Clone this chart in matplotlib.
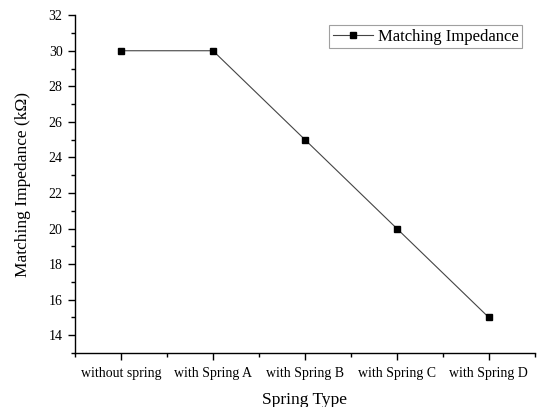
import matplotlib
matplotlib.use("Agg")
import matplotlib.pyplot as plt
from matplotlib.ticker import MultipleLocator, FixedLocator

plt.rcParams['font.family'] = ['Liberation Serif', 'DejaVu Serif']

categories = ["without spring", "with Spring A", "with Spring B", "with Spring C", "with Spring D"]
impedance = [30, 30, 25, 20, 15]

fig = plt.figure(figsize=(5.44, 4.07), dpi=100)
ax = fig.add_axes([0.138, 0.1327, 0.845, 0.83])

x = list(range(1, len(categories) + 1))
ax.plot(x, impedance, color='#444444', linewidth=0.8, marker='s', markersize=5,
        markerfacecolor='black', markeredgecolor='black', label='Matching Impedance')

ax.set_xlim(0.5, len(categories) + 0.5)
ax.set_ylim(13, 32)
ax.set_xticks(x)
ax.set_xticklabels(categories)
ax.xaxis.set_minor_locator(FixedLocator([0.5 + i for i in range(len(categories) + 1)]))
ax.set_yticks(range(14, 33, 2))
ax.yaxis.set_minor_locator(MultipleLocator(1))

for s in ['top', 'right']:
    ax.spines[s].set_visible(False)
for s in ['left', 'bottom']:
    ax.spines[s].set_linewidth(1.0)

ax.tick_params(axis='both', which='major', direction='out', length=5, width=1, labelsize=10)
ax.tick_params(axis='both', which='minor', direction='out', length=3, width=1)
ax.tick_params(axis='x', which='major', pad=5)
ax.tick_params(axis='y', which='major', pad=4)

ax.set_xlabel('Spring Type', fontsize=12.5, labelpad=9)
ax.set_ylabel('Matching Impedance (kΩ)', fontsize=12.5, labelpad=13)

leg = ax.legend(loc='upper right', bbox_to_anchor=(0.972, 0.970), fontsize=12, frameon=True,
                fancybox=False, edgecolor='#888888', handlelength=2.4, handletextpad=0.3,
                borderpad=0.2, borderaxespad=0)
leg.get_frame().set_linewidth(0.8)

fig.savefig('out.png', dpi=100)
